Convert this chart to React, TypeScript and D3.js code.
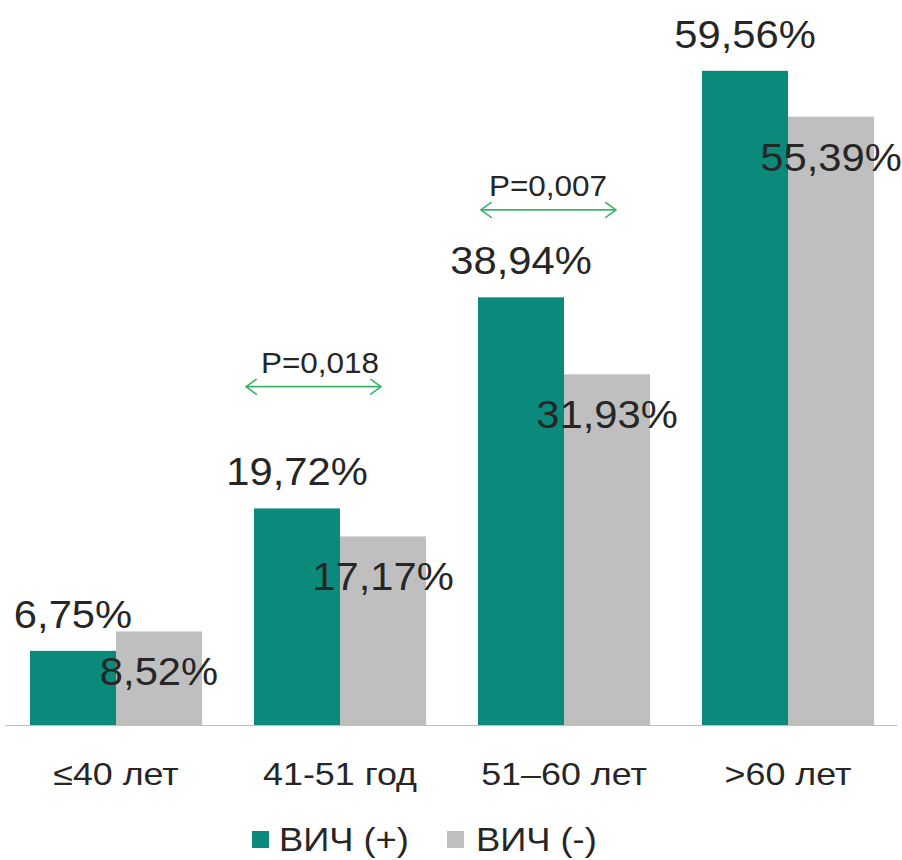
import React from "react";
import * as d3 from "d3";

const categories = ["≤40 лет", "41-51 год", "51–60 лет", ">60 лет"];
const series = ["ВИЧ (+)", "ВИЧ (-)"];
const hivPositive = [6.75, 19.72, 38.94, 59.56];
const hivNegative = [8.52, 17.17, 31.93, 55.39];
// significance brackets: group index, label, level on the value axis (%)
const comparisons = [
  { group: 1, label: "P=0,018", level: 30.8, x0: -8, x1: 127, tx: 66 },
  { group: 2, label: "P=0,007", level: 46.9, x0: 3, x1: 138, tx: 70 },
];

const W = 902;
const H = 860;
const COLORS = ["#0b8a7b", "#bfbfbf"];
const FONT = "'Liberation Sans', Arial, sans-serif";
const TEXT = "#262626";
const ARROW = "#3cb36a";

const fmt = (v: number) => v.toFixed(2).replace(".", ",") + "%";

function Label({ x, y, size, sx, anchor = "middle", children }: any) {
  return (
    <text transform={`translate(${x},${y}) scale(${sx},1)`} textAnchor={anchor} fontSize={size} fill={TEXT}>
      {children}
    </text>
  );
}

export default function App() {
  const baseline = 725;
  const x = d3.scaleBand<string>().domain(categories).range([4, 900]).paddingInner(0.232).paddingOuter(0.116);
  const xs = d3.scaleBand<string>().domain(series).range([0, x.bandwidth()]);
  const y = d3.scaleLinear().domain([0, 60]).range([baseline, 66]);
  const values = [hivPositive, hivNegative];

  return (
    <svg width={W} height={H} style={{ position: "absolute", left: 0, top: 0, background: "#fff" }} fontFamily={FONT}>
      <defs>
        <marker id="chev" viewBox="0 0 12 16" refX="11" refY="8" markerWidth="12" markerHeight="16" orient="auto-start-reverse" markerUnits="userSpaceOnUse">
          <path d="M0,0 L11,8 L0,16" fill="none" stroke={ARROW} strokeWidth={1.6} />
        </marker>
      </defs>
      {categories.map((c, i) => (
        <g key={c} transform={`translate(${x(c)},0)`}>
          {series.map((s, k) => {
            const v = values[k][i];
            return (
              <rect key={s} x={xs(s)!} y={y(v)} width={xs.bandwidth()} height={baseline - y(v)} fill={COLORS[k]} />
            );
          })}
        </g>
      ))}
      <line x1={5} x2={897} y1={baseline + 0.5} y2={baseline + 0.5} stroke="#bfbfbf" strokeWidth={1.2} />
      {categories.map((c, i) =>
        series.map((s, k) => {
          const v = values[k][i];
          const cx = x(c)! + xs(s)! + xs.bandwidth() / 2;
          const ty = k === 0 ? y(v) - 23 : y(v) + 54;
          return (
            <Label key={c + s} x={cx} y={ty} size={39} sx={1.07}>
              {fmt(v)}
            </Label>
          );
        })
      )}
      {categories.map((c) => (
        <Label key={c} x={x(c)! + x.bandwidth() / 2} y={785} size={32} sx={1.12}>
          {c}
        </Label>
      ))}
      {comparisons.map((cmp) => {
        const left = x(categories[cmp.group])!;
        const ay = y(cmp.level);
        return (
          <g key={cmp.label}>
            <line x1={left + cmp.x0} x2={left + cmp.x1} y1={ay} y2={ay} stroke={ARROW} strokeWidth={1.8} markerStart="url(#chev)" markerEnd="url(#chev)" />
            <Label x={left + cmp.tx} y={ay - 14} size={30} sx={1.05}>
              {cmp.label}
            </Label>
          </g>
        );
      })}
      <g>
        <rect x={252} y={831} width={17} height={17} fill={COLORS[0]} />
        <Label x={279} y={851} size={33} sx={1.1} anchor="start">{series[0]}</Label>
        <rect x={447} y={831} width={17} height={17} fill={COLORS[1]} />
        <Label x={476} y={851} size={33} sx={1.1} anchor="start">{series[1]}</Label>
      </g>
    </svg>
  );
}
